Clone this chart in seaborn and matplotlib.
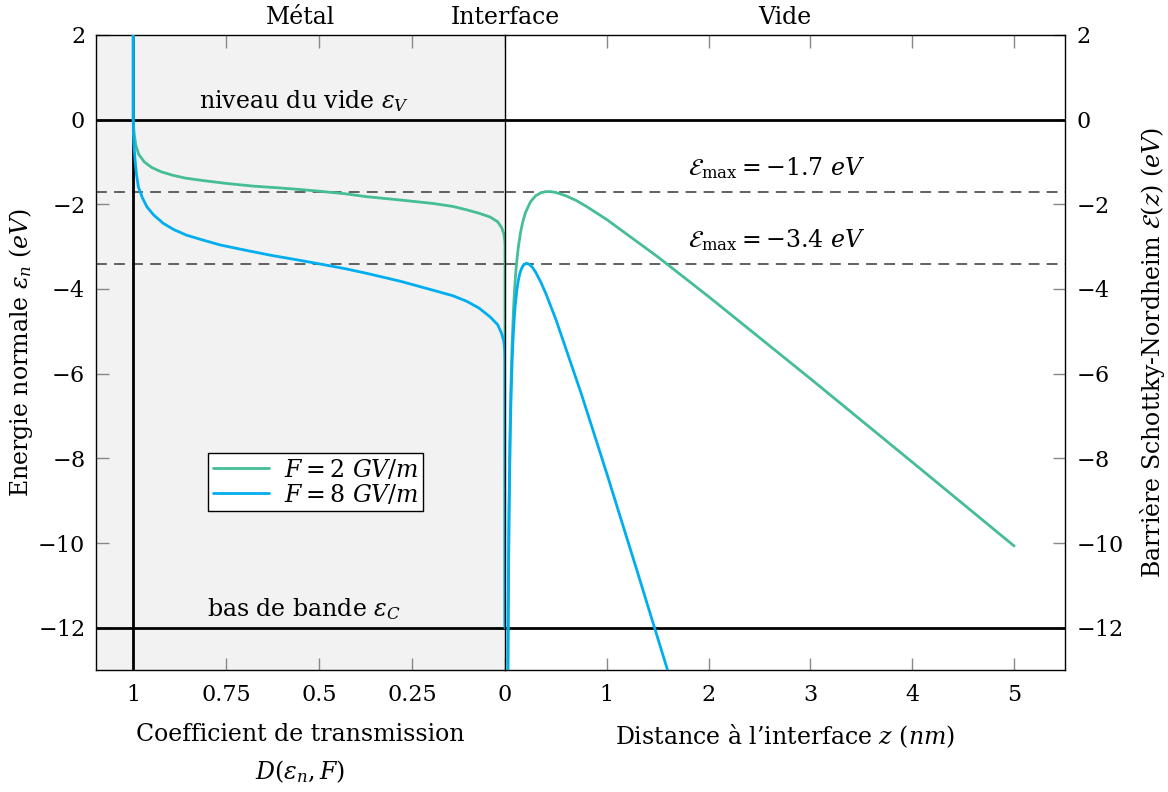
import matplotlib
matplotlib.use("Agg")
import matplotlib.pyplot as plt
import seaborn as sns

# transmission coefficient D(eps_n, F)
d_green = [1.0, 1.0, 0.999, 0.997, 0.993, 0.985, 0.970, 0.950, 0.925, 0.895, 0.860,
           0.811, 0.745, 0.677, 0.610, 0.551, 0.500, 0.430, 0.372, 0.290, 0.193, 0.140,
           0.103, 0.070, 0.040, 0.020, 0.009, 0.003, 0.0008, 0.0, 0.0]
eps_green = [2.0, 0.0, -0.15, -0.35, -0.60, -0.82, -1.00, -1.13, -1.23, -1.31, -1.38,
             -1.44, -1.51, -1.57, -1.61, -1.65, -1.69, -1.75, -1.82, -1.89, -1.98, -2.05,
             -2.13, -2.21, -2.30, -2.41, -2.55, -2.70, -2.85, -3.00, -12.0]
d_blue = [1.0, 1.0, 0.9995, 0.998, 0.995, 0.991, 0.986, 0.975, 0.963, 0.945, 0.919,
          0.890, 0.856, 0.810, 0.766, 0.700, 0.632, 0.560, 0.497, 0.430, 0.372, 0.280,
          0.193, 0.140, 0.103, 0.070, 0.040, 0.020, 0.009, 0.003, 0.0008, 0.0, 0.0]
eps_blue = [2.0, 0.0, -0.30, -0.60, -0.95, -1.30, -1.59, -1.85, -2.06, -2.25, -2.45,
            -2.60, -2.73, -2.85, -2.96, -3.08, -3.20, -3.31, -3.41, -3.52, -3.63, -3.82,
            -4.03, -4.16, -4.29, -4.45, -4.66, -4.84, -5.05, -5.25, -5.45, -5.70, -12.0]

# Schottky-Nordheim barrier, right panel
z_green = [0.01, 0.015, 0.02, 0.025, 0.03, 0.04, 0.05, 0.06, 0.07, 0.085, 0.09, 0.1,
           0.11, 0.12, 0.13, 0.15, 0.17, 0.2, 0.25, 0.3, 0.35, 0.4, 0.42, 0.45, 0.5,
           0.6, 0.7, 0.8, 1.0, 1.5, 2.0, 3.0, 4.0, 5.0]
e_green = [-36.02, -24.03, -18.04, -14.45, -12.06, -9.08, -7.30, -6.12, -5.28, -4.41,
           -4.18, -3.80, -3.49, -3.24, -3.03, -2.70, -2.46, -2.20, -1.94, -1.80, -1.73,
           -1.70, -1.70, -1.70, -1.72, -1.80, -1.91, -2.05, -2.36, -3.24, -4.18, -6.12,
           -8.09, -10.07]
z_blue = [0.01, 0.015, 0.02, 0.025, 0.03, 0.035, 0.04, 0.05, 0.06, 0.07, 0.08, 0.09,
          0.1, 0.115, 0.13, 0.145, 0.16, 0.18, 0.21, 0.24, 0.27, 0.3, 0.35, 0.4, 0.5,
          0.75, 1.0, 1.3, 1.6]
e_blue = [-36.08, -24.12, -18.16, -14.60, -12.24, -10.57, -9.32, -7.60, -6.48, -5.70,
          -5.14, -4.72, -4.40, -4.05, -3.81, -3.64, -3.53, -3.44, -3.39, -3.42, -3.49,
          -3.60, -3.83, -4.10, -4.72, -6.48, -8.36, -10.68, -13.03]

e_max = [-1.7, -3.4]
y_ticks = [2, 0, -2, -4, -6, -8, -10, -12]
d_ticks = [1, 0.75, 0.5, 0.25, 0]
d_labels = ["1", "0.75", "0.5", "0.25", "0"]
z_ticks = [1, 2, 3, 4, 5]

green = "#45bd96"
blue = "#00aeef"

sns.set_style("ticks")
plt.rcParams["font.family"] = ["DejaVu Serif"]
plt.rcParams["mathtext.fontset"] = "dejavuserif"
plt.rcParams["font.size"] = 16
plt.rcParams["text.color"] = "black"
plt.rcParams["axes.labelcolor"] = "black"

W, H = 1168, 792
fig = plt.figure(figsize=(W / 100, H / 100), dpi=100)
bottom = (H - 670) / H
height = (670 - 35) / H
ax_l = fig.add_axes([96 / W, bottom, (505 - 96) / W, height])
ax_r = fig.add_axes([505 / W, bottom, (1065 - 505) / W, height])

ax_l.set_facecolor("#f2f2f2")
ax_r.set_facecolor("white")

for ax in (ax_l, ax_r):
    ax.axhline(0, color="black", lw=2, zorder=3)
    ax.axhline(-12, color="black", lw=2, zorder=3)
    for e in e_max:
        ax.axhline(e, color="#555555", lw=1.3, dashes=(6, 4), zorder=2)
    for s in ax.spines.values():
        s.set_color("black")
        s.set_linewidth(1)

ax_l.axvline(1, color="black", lw=2, zorder=3)
ax_l.spines["right"].set_visible(False)

sns.lineplot(x=d_green, y=eps_green, sort=False, estimator=None, color=green, lw=2,
             label=r"$F = 2\ GV/m$", ax=ax_l, zorder=4)
sns.lineplot(x=d_blue, y=eps_blue, sort=False, estimator=None, color=blue, lw=2,
             label=r"$F = 8\ GV/m$", ax=ax_l, zorder=5)
sns.lineplot(x=z_green, y=e_green, sort=False, estimator=None, color=green, lw=2,
             legend=False, ax=ax_r, zorder=4)
sns.lineplot(x=z_blue, y=e_blue, sort=False, estimator=None, color=blue, lw=2,
             legend=False, ax=ax_r, zorder=5)

ax_l.set_xlim(1.1, 0)
ax_r.set_xlim(0, 5.5)
ax_l.set_ylim(-13, 2)
ax_r.set_ylim(-13, 2)

ax_l.set_xticks(d_ticks, d_labels)
ax_r.set_xticks(z_ticks, [str(t) for t in z_ticks])
y_labels = [f"${t}$" if t >= 0 else f"$-{-t}$" for t in y_ticks]
ax_l.set_yticks(y_ticks, y_labels)
ax_r.set_yticks(y_ticks, y_labels)

tick_kw = dict(direction="in", length=9, width=1, color="#888888", labelsize=16,
               labelcolor="black")
ax_l.tick_params(axis="x", top=True, bottom=True, pad=10, **tick_kw)
ax_r.tick_params(axis="x", top=True, bottom=True, pad=10, **tick_kw)
ax_l.tick_params(axis="y", left=True, right=False, pad=8, **tick_kw)
ax_r.tick_params(axis="y", left=False, right=True, labelleft=False, labelright=True,
                 pad=8, **tick_kw)

ax_l.set_xlabel("Coefficient de transmission\n" + r"$D(\epsilon_n, F)$", fontsize=17,
                labelpad=12, linespacing=1.6)
ax_r.set_xlabel(r"Distance à l’interface $z$ $(nm)$", fontsize=17, labelpad=12)
ax_l.set_ylabel(r"Energie normale $\epsilon_n$ $(eV)$", fontsize=17, labelpad=2)
ax_r.set_ylabel(r"Barrière Schottky-Nordheim $\mathcal{E}(z)$ $(eV)$", fontsize=17,
                labelpad=10)
ax_r.yaxis.set_label_position("right")

ax_l.text(0.54, 0.45, r"niveau du vide $\epsilon_V$", ha="center", va="center", fontsize=17)
ax_l.text(0.54, -11.55, r"bas de bande $\epsilon_C$", ha="center", va="center", fontsize=17)
ax_r.text(1.8, -1.15, r"$\mathcal{E}_{\max} = -1.7\ eV$", ha="left", va="center", fontsize=17)
ax_r.text(1.8, -2.85, r"$\mathcal{E}_{\max} = -3.4\ eV$", ha="left", va="center", fontsize=17)

fig.text(300 / W, 1 - 17 / H, "Métal", ha="center", va="center", fontsize=17)
fig.text(505 / W, 1 - 17 / H, "Interface", ha="center", va="center", fontsize=17)
fig.text(785 / W, 1 - 17 / H, "Vide", ha="center", va="center", fontsize=17)

leg = ax_l.legend(loc="upper left", bbox_to_anchor=(0.274, 0.342), borderaxespad=0,
                  fancybox=False, framealpha=1, edgecolor="black", fontsize=17,
                  handlelength=2.4, borderpad=0.2, labelspacing=0.05, handletextpad=0.6)
leg.get_frame().set_linewidth(1)

fig.savefig("out.png", dpi=100)
